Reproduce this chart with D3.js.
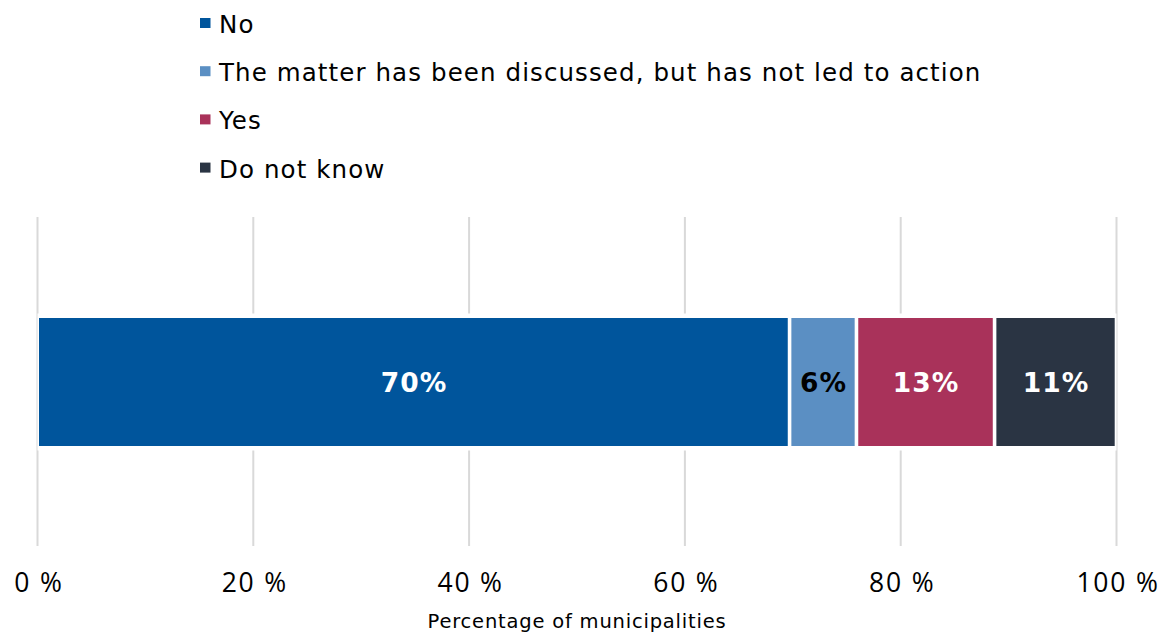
<!DOCTYPE html>
<html><head><meta charset="utf-8">
<script src="https://cdn.jsdelivr.net/npm/d3@7"></script>
<style>body{margin:0;background:#fff}</style>
</head><body>
<svg id="chart" width="1170" height="633"></svg>
<script>
const categories = ["No", "The matter has been discussed, but has not led to action", "Yes", "Do not know"];
const values = [69.7, 6.2, 12.8, 11.3];
const labels = ["70%", "6%", "13%", "11%"];
const colors = ["#00559C", "#5B8FC3", "#A9325A", "#2A3443"];
const labelColors = ["#fff", "#000", "#fff", "#fff"];
const ticks = [0, 20, 40, 60, 80, 100];
const tickLabels = ["0 %", "20 %", "40 %", "60 %", "80 %", "100 %"];
const axisTitle = "Percentage of municipalities";

const svg = d3.select("#chart");
const x = d3.scaleLinear().domain([0, 100]).range([37.5, 1116.5]);
const y = d3.scaleBand().domain(["row"]).range([318, 446]).padding(0);

// gridlines
svg.append("g").selectAll("line").data(ticks).join("line")
  .attr("x1", d => x(d)).attr("x2", d => x(d))
  .attr("y1", 217).attr("y2", 546)
  .attr("stroke", "#d9d9d9").attr("stroke-width", 2);

// stacked segments
let acc = 0;
const segs = values.map((v, i) => { const s = {start: acc, end: acc + v, i}; acc += v; return s; });
const band = y("row");
svg.append("g").selectAll("rect").data(segs).join("rect")
  .attr("x", d => x(d.start)).attr("width", d => x(d.end) - x(d.start))
  .attr("y", band - 4.5).attr("height", y.bandwidth() + 9)
  .attr("fill", "#fff");
svg.append("g").selectAll("rect").data(segs).join("rect")
  .attr("x", d => x(d.start) + (d.i ? 1.8 : 1.5)).attr("width", d => x(d.end) - x(d.start) - (d.i ? 1.8 : 1.5) - 1.8)
  .attr("y", band).attr("height", y.bandwidth())
  .attr("fill", d => colors[d.i]);
svg.append("g").selectAll("text").data(segs).join("text")
  .attr("x", d => (x(d.start) + x(d.end)) / 2 + 0.5).attr("y", band + y.bandwidth() / 2 + 0.5)
  .attr("text-anchor", "middle").attr("dominant-baseline", "central")
  .attr("font-family", "Verdana, 'DejaVu Sans', sans-serif").attr("font-weight", "bold")
  .attr("font-size", 26.5).attr("letter-spacing", 1).attr("fill", d => labelColors[d.i])
  .text(d => labels[d.i]);

// axis
const axis = d3.axisBottom(x).tickValues(ticks).tickFormat((d, i) => tickLabels[i]).tickSize(0).tickPadding(0);
const gAxis = svg.append("g").attr("transform", "translate(0,592)").call(axis);
gAxis.select(".domain").remove();
gAxis.selectAll("text").attr("y", 0).attr("dy", 0).attr("dx", 1)
  .attr("font-family", "'Open Sans', 'Segoe UI', sans-serif").attr("font-size", 26.5)
  .attr("letter-spacing", 1.8).attr("fill", "#000");

svg.append("text").attr("x", x(50)).attr("y", 628).attr("text-anchor", "middle")
  .attr("font-family", "Verdana, 'DejaVu Sans', sans-serif").attr("font-size", 19.5)
  .attr("letter-spacing", 0.8).attr("fill", "#000")
  .text(axisTitle);

// legend
const lg = svg.append("g").selectAll("g").data(categories).join("g")
  .attr("transform", (d, i) => `translate(200, ${23 + i * 48.2})`);
lg.append("rect").attr("x", 0).attr("y", -5).attr("width", 10.5).attr("height", 10)
  .attr("fill", (d, i) => colors[i]);
lg.append("text").attr("x", 19).attr("y", 10)
  .attr("font-family", "Verdana, 'DejaVu Sans', sans-serif").attr("font-size", 24.5)
  .attr("letter-spacing", 1.1).attr("fill", "#000")
  .text(d => d);
</script>
</body></html>
